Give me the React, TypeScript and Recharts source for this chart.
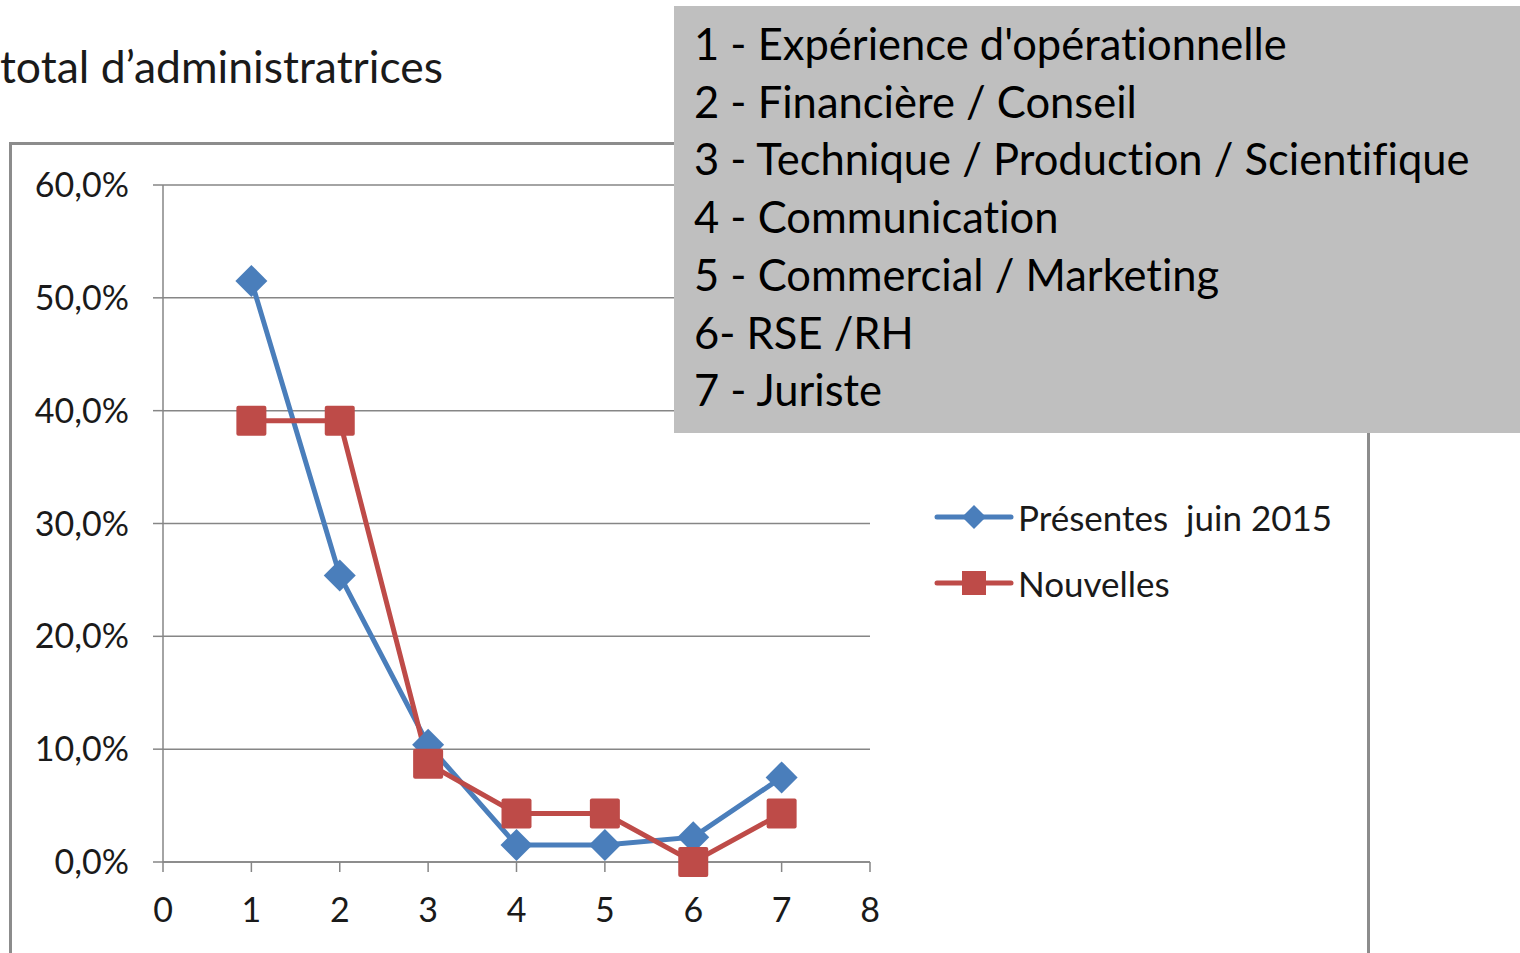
import React from 'react';
import { LineChart, Line, XAxis, YAxis, CartesianGrid, Legend } from 'recharts';

const positions = [1, 2, 3, 4, 5, 6, 7];
const presentes = [51.5, 25.4, 10.4, 1.5, 1.5, 2.2, 7.5];
const nouvelles = [39.1, 39.1, 8.7, 4.3, 4.3, 0, 4.3];
const xTicks = [0, 1, 2, 3, 4, 5, 6, 7, 8];
const yTicks = [0, 10, 20, 30, 40, 50, 60];
const seriesNames = ['Présentes  juin 2015', 'Nouvelles'];
const categories = [
  "1 - Expérience d'opérationnelle",
  '2 - Financière / Conseil',
  '3 - Technique / Production / Scientifique',
  '4 - Communication',
  '5 - Commercial / Marketing',
  '6- RSE /RH',
  '7 - Juriste',
];
const title = 'total d\u2019administratrices';

const BLUE = '#4a7ebb';
const RED = '#be4b48';
const GRID = '#868686';
const FONT = 'Lato, "Noto Sans", sans-serif';

const data = positions.map((x, i) => ({ x, presentes: presentes[i], nouvelles: nouvelles[i] }));

const fmtPct = (v: number) => `${v.toFixed(1).replace('.', ',')}%`;

const Diamond = (props: any) => {
  const { cx, cy, index } = props;
  if (cx == null || cy == null) return <g key={`d${index}`} />;
  const r = 16;
  return (
    <path
      key={`d${index}`}
      d={`M${cx},${cy - r} L${cx + r},${cy} L${cx},${cy + r} L${cx - r},${cy} Z`}
      fill={BLUE}
    />
  );
};

const Square = (props: any) => {
  const { cx, cy, index } = props;
  if (cx == null || cy == null) return <g key={`s${index}`} />;
  const s = 15;
  return <rect key={`s${index}`} x={cx - s} y={cy - s} width={s * 2} height={s * 2} rx={2} fill={RED} />;
};

const LegendBox = () => {
  const items = [
    { name: seriesNames[0], color: BLUE, shape: 'diamond' },
    { name: seriesNames[1], color: RED, shape: 'square' },
  ];
  return (
    <div style={{ fontFamily: FONT, fontSize: 35, color: '#1a1a1a', fontVariantLigatures: 'none' }}>
      {items.map((it) => (
        <div key={it.name} style={{ display: 'flex', alignItems: 'center', height: 66 }}>
          <svg width={82} height={34} style={{ marginRight: 3 }}>
            <line x1={4} y1={17} x2={78} y2={17} stroke={it.color} strokeWidth={5} strokeLinecap="round" />
            {it.shape === 'diamond' ? (
              <path d="M41,5 L53,17 L41,29 L29,17 Z" fill={it.color} />
            ) : (
              <rect x={29} y={5} width={24} height={24} fill={it.color} />
            )}
          </svg>
          <span style={{ whiteSpace: 'pre' }}>{it.name}</span>
        </div>
      ))}
    </div>
  );
};

export default function App() {
  return (
    <div
      style={{
        position: 'absolute',
        left: 0,
        top: 0,
        width: 1520,
        height: 953,
        overflow: 'hidden',
        background: '#fff',
        fontVariantLigatures: 'none',
      }}
    >
      <div style={{ position: 'absolute', left: 0, top: 39, fontFamily: FONT, fontSize: 44.5, color: '#1a1a1a', whiteSpace: 'pre' }}>
        {title}
      </div>
      <div
        style={{
          position: 'absolute',
          left: 9,
          top: 142,
          width: 1355,
          height: 900,
          border: '3px solid #8c8c8c',
        }}
      />
      <div style={{ position: 'absolute', left: 0, top: 0 }}>
        <LineChart width={1520} height={953} data={data} margin={{ top: 185, right: 650, bottom: 31, left: 63 }}>
          <CartesianGrid vertical={false} stroke={GRID} strokeWidth={1.5} />
          <XAxis
            dataKey="x"
            type="number"
            domain={[0, 8]}
            ticks={xTicks}
            height={60}
            tickSize={10}
            tickMargin={26}
            axisLine={{ stroke: GRID, strokeWidth: 1.5 }}
            tickLine={{ stroke: GRID, strokeWidth: 1.5 }}
            tick={{ fill: '#1a1a1a', fontSize: 34, fontFamily: FONT }}
          />
          <YAxis
            type="number"
            domain={[0, 60]}
            ticks={yTicks}
            width={100}
            tickSize={10}
            tickMargin={24}
            tickFormatter={fmtPct}
            axisLine={{ stroke: GRID, strokeWidth: 1.5 }}
            tickLine={{ stroke: GRID, strokeWidth: 1.5 }}
            tick={{ fill: '#1a1a1a', fontSize: 34, fontFamily: FONT }}
          />
          <Legend
            layout="horizontal"
            verticalAlign="middle"
            align="center"
            wrapperStyle={{ left: 933, top: 484, width: 440 }}
            content={() => <LegendBox />}
          />
          <Line
            dataKey="presentes"
            name={seriesNames[0]}
            stroke={BLUE}
            strokeWidth={5}
            dot={Diamond}
            activeDot={false}
            isAnimationActive={false}
          />
          <Line
            dataKey="nouvelles"
            name={seriesNames[1]}
            stroke={RED}
            strokeWidth={5}
            dot={Square}
            activeDot={false}
            isAnimationActive={false}
          />
        </LineChart>
      </div>
      <div
        style={{
          position: 'absolute',
          left: 674,
          top: 6,
          width: 846,
          height: 427,
          background: '#bfbfbf',
          boxSizing: 'border-box',
          padding: '9px 0 0 20px',
          fontFamily: FONT,
          fontSize: 43.5,
          lineHeight: '57.7px',
          color: '#000',
        }}
      >
        {categories.map((c) => (
          <div key={c} style={{ whiteSpace: 'pre' }}>{c}</div>
        ))}
      </div>
    </div>
  );
}
